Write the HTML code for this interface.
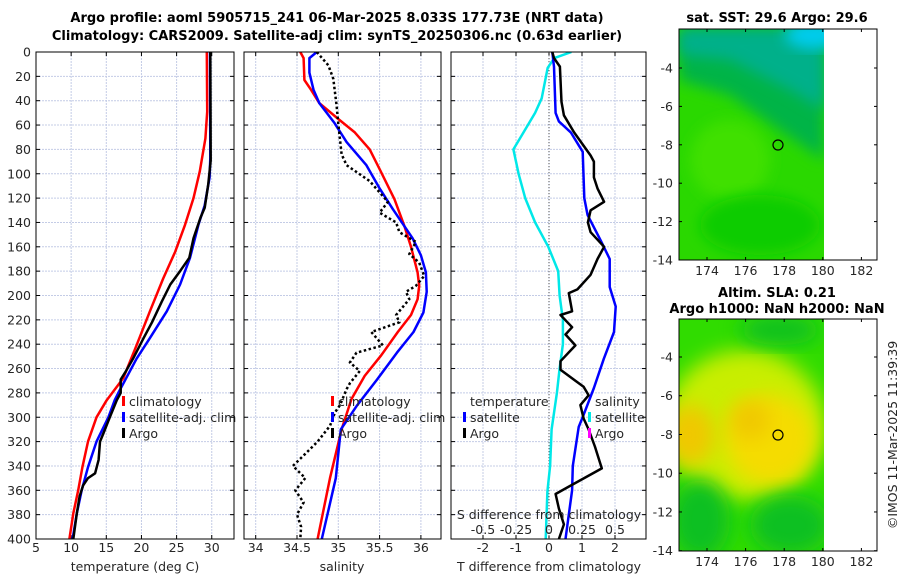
<!DOCTYPE html>
<html><head><meta charset="utf-8"><style>
html,body{margin:0;padding:0;background:#fff;}
svg{display:block;font-family:"DejaVu Sans","Liberation Sans",sans-serif;}
.tk{font-size:12.5px;fill:#262626;}
.ttl{font-size:13px;font-weight:bold;fill:#000;}
</style></head><body>
<svg id="fig" width="900" height="580" viewBox="0 0 900 580" xmlns="http://www.w3.org/2000/svg">
<defs>
<filter id="blur1" x="-20%" y="-20%" width="140%" height="140%"><feGaussianBlur stdDeviation="7"/></filter>
<filter id="blur2" x="-30%" y="-30%" width="160%" height="160%"><feGaussianBlur stdDeviation="10"/></filter>
<clipPath id="cm1"><rect x="679" y="29" width="145" height="231"/></clipPath>
<clipPath id="cm2"><rect x="679" y="319" width="145" height="232"/></clipPath>
<clipPath id="cp1"><rect x="36" y="52" width="198" height="487"/></clipPath>
<clipPath id="cp2"><rect x="244" y="52" width="197" height="487"/></clipPath>
<clipPath id="cp3"><rect x="451" y="52" width="195" height="487"/></clipPath>
</defs>
<text class="ttl" x="337" y="22" text-anchor="middle">Argo profile: aoml 5905715_241 06-Mar-2025 8.033S 177.73E (NRT data)</text>
<text class="ttl" x="337" y="40" text-anchor="middle">Climatology: CARS2009. Satellite-adj clim: synTS_20250306.nc (0.63d earlier)</text>

<g id="maps">
<g clip-path="url(#cm1)">
<rect x="679" y="29" width="145" height="231" fill="#2ad800"/>
<polygon points="679,29 824,29 824,160 780,130 730,95 679,80" fill="#00b446" filter="url(#blur1)"/>
<polygon points="679,29 824,29 824,110 790,90 730,60 679,55" fill="#00b08a" filter="url(#blur1)"/>
<ellipse cx="815" cy="35" rx="30" ry="14" fill="#00ccee" filter="url(#blur1)"/>
<ellipse cx="730" cy="160" rx="40" ry="40" fill="#40e000" filter="url(#blur1)"/>
<ellipse cx="760" cy="225" rx="60" ry="30" fill="#10cc00" filter="url(#blur1)"/>
</g>
<rect x="679" y="29" width="198" height="231" fill="none" stroke="#000" stroke-width="1"/>
<circle cx="778" cy="145" r="5" fill="none" stroke="#000" stroke-width="1.2"/>
<text class="ttl" x="777" y="22" text-anchor="middle">sat. SST: 29.6 Argo: 29.6</text>

<g clip-path="url(#cm2)">
<rect x="679" y="319" width="145" height="232" fill="#30dc00"/>
<ellipse cx="745" cy="425" rx="80" ry="75" fill="#c8ee00" filter="url(#blur2)"/>
<ellipse cx="770" cy="440" rx="45" ry="45" fill="#f5dc00" filter="url(#blur2)"/>
<ellipse cx="690" cy="435" rx="25" ry="30" fill="#f0c800" filter="url(#blur2)"/>
<ellipse cx="750" cy="420" rx="20" ry="20" fill="#f0c800" filter="url(#blur2)"/>
<ellipse cx="700" cy="520" rx="30" ry="40" fill="#10c020" filter="url(#blur2)"/>
<ellipse cx="790" cy="525" rx="40" ry="30" fill="#10c020" filter="url(#blur2)"/>
<ellipse cx="780" cy="330" rx="40" ry="15" fill="#10c020" filter="url(#blur2)"/>
</g>
<rect x="679" y="319" width="198" height="232" fill="none" stroke="#000" stroke-width="1"/>
<circle cx="778" cy="435" r="5" fill="none" stroke="#000" stroke-width="1.2"/>
<text class="ttl" x="777" y="297" text-anchor="middle">Altim. SLA: 0.21</text>
<text class="ttl" x="777" y="313" text-anchor="middle">Argo h1000: NaN h2000: NaN</text>
</g>
<text class="tk" x="0" y="0" transform="translate(897,435) rotate(-90)" text-anchor="middle">©IMOS 11-Mar-2025 11:39:39</text>
</svg>
<script>
// ---------- data ----------
const depthTicks = [0,20,40,60,80,100,120,140,160,180,200,220,240,260,280,300,320,340,360,380,400];
const tempTicks = [5,10,15,20,25,30];
const salTicks = [34,34.5,35,35.5,36];
const salTickLabels = ["34","34.5","35","35.5","36"];
const tdiffTicks = [-2,-1,0,1,2];
const sdiffTicks = [-0.5,-0.25,0,0.25,0.5];
const sdiffTickLabels = ["-0.5","-0.25","0","0.25","0.5"];

const tClimDepth = [0,49,71,98,120,142,164,186,213,241,268,286,300,320,341,360,379,400];
const tClim = [29.3,29.35,29.1,28.3,27.4,26.2,24.8,23.1,21.2,19.3,17.4,15.05,13.6,12.4,11.6,11.0,10.3,9.75];
const tSatDepth = [0,87,103,126,142,169,191,213,235,252,280,286,300,320,341,360,379,400];
const tSat = [29.75,29.8,29.7,29.0,28.1,26.9,25.5,23.6,21.2,19.3,16.7,16.2,15.3,13.6,12.4,11.5,10.8,10.2];
const tArgoDepth = [0,89,109,128,136,153,169,180,191,205,222,235,252,263,269,280,286,300,313,320,335,346,350,356,365,379,400];
const tArgo = [29.8,29.85,29.5,29.0,28.4,27.4,26.8,25.5,24.1,22.9,21.5,20.3,18.8,17.7,17.05,17.05,16.5,15.5,14.6,14.1,13.9,13.4,12.4,11.7,11.2,10.8,10.3];

const sClimDepth = [0,5,23,31,42,55,66,80,99,121,143,160,181,192,203,216,230,249,266,285,310,350,400];
const sClim = [34.54,34.58,34.59,34.67,34.77,35.0,35.2,35.38,35.52,35.68,35.8,35.88,35.96,35.98,35.96,35.88,35.72,35.52,35.32,35.16,35.04,34.9,34.75];
const sSatDepth = [0,5,17,31,42,58,74,93,112,129,153,167,181,197,214,230,247,269,290,310,350,400];
const sSat = [34.74,34.65,34.65,34.7,34.77,34.95,35.1,35.34,35.5,35.66,35.9,36.0,36.06,36.07,36.03,35.91,35.71,35.47,35.23,35.03,34.97,34.8];
const sArgoDepth = [0,11,22,44,59,84,93,106,123,132,140,148,156,166,173,184,192,197,203,216,222,230,241,247,255,262,272,277,290,296,307,320,330,340,350,360,370,380,390,400];
const sArgo = [34.74,34.88,34.94,34.98,35.0,35.04,35.1,35.38,35.6,35.5,35.7,35.74,35.94,35.86,35.98,36.04,35.94,35.82,35.86,35.7,35.74,35.4,35.54,35.22,35.14,35.26,35.14,35.1,35.02,34.96,34.9,34.75,34.6,34.45,34.6,34.48,34.58,34.5,34.55,34.54];

const dSalSatDepth = [0,5,13,38,50,80,100,120,140,160,180,200,220,240,260,280,310,340,361,400];
const dSalSat = [0.17,0.04,-0.01,-0.055,-0.105,-0.27,-0.23,-0.18,-0.105,-0.005,0.07,0.08,0.105,0.105,0.08,0.06,0.02,0.008,-0.012,-0.025];
const dTSatDepth = [0,12,50,57,66,82,120,134,155,170,193,209,230,252,276,298,308,340,360,400];
const dTSat = [0.1,0.15,0.2,0.3,0.66,1.02,1.07,1.17,1.57,1.84,1.84,2.02,1.97,1.66,1.36,1.05,0.9,0.72,0.7,0.5];
const dTArgoDepth = [0,5,12,41,52,66,85,90,103,112,123,130,140,148,160,170,183,195,198,213,216,226,232,241,254,261,275,282,290,301,310,324,342,357,363,375,388,400];
const dTArgo = [0.1,0.15,0.33,0.38,0.45,0.76,1.26,1.36,1.36,1.47,1.67,1.26,1.18,1.26,1.67,1.47,1.26,0.86,0.6,0.7,0.35,0.7,0.5,0.8,0.35,0.35,1.05,1.2,0.95,1.05,1.2,1.39,1.6,0.6,0.2,0.3,0.45,0.3];

const mapLonTicks = [174,176,178,180,182];
const mapLatTicks = [-4,-6,-8,-10,-12,-14];

// ---------- scales ----------
const NS = 'http://www.w3.org/2000/svg';
const svg = document.getElementById('fig');
const Y0 = 52, Y1 = 539;
function yD(d){ return Y0 + (d/400)*(Y1-Y0); }
function xT1(t){ return 36 + (t-5)*7.03; }
function xS(s){ return 255.7 + (s-34)*82.6; }
function xDT(t){ return 549 + t*33; }
function xDS(s){ return 549 + s*132; }
function lonX(l){ return 707 + (l-174)*19.3; }
function latY1(l){ return 68 + (-4-l)*19.2; }
function latY2(l){ return 357 + (-4-l)*19.37; }

function mk(tag, attrs, parent){
  const e = document.createElementNS(NS, tag);
  for (const k in attrs) e.setAttribute(k, attrs[k]);
  (parent||svg).appendChild(e);
  return e;
}
function txt(x,y,s,anchor,cls,parent){
  const t = mk('text',{x:x,y:y,'text-anchor':anchor||'middle','class':cls||'tk'},parent);
  t.textContent = s;
  return t;
}

function panel(name, x0, x1, xticks, xf, labels){
  const g = mk('g',{});
  
  
  depthTicks.forEach(d=>{
    if(d>0 && d<400){
      const l = mk('line',{x1:x0,x2:x1,y1:yD(d),y2:yD(d),stroke:'#c4cce6','stroke-width':1,'stroke-dasharray':'2,1'},g);
      
      
    }
    mk('line',{x1:x0,x2:x0+4,y1:yD(d),y2:yD(d),stroke:'#000'},g);
    mk('line',{x1:x1-4,x2:x1,y1:yD(d),y2:yD(d),stroke:'#000'},g);
  });
  xticks.forEach((v,i)=>{
    const x = xf(v);
    const l = mk('line',{x1:x,x2:x,y1:Y0,y2:Y1,stroke:'#c4cce6','stroke-width':1,'stroke-dasharray':'2,1'},g);
    
    
    mk('line',{x1:x,x2:x,y1:Y1-4,y2:Y1,stroke:'#000'},g);
    mk('line',{x1:x,x2:x,y1:Y0,y2:Y0+4,stroke:'#000'},g);
    const t = txt(x,552,labels?labels[i]:String(v),'middle','tk',g);
    
    
  });
  return g;
}

function line(parent, xs, ds, xf, color, width, dash, name, clip){
  let p='';
  for(let i=0;i<xs.length;i++){ p += (i?'L':'M') + xf(xs[i]).toFixed(1) + ',' + yD(ds[i]).toFixed(1); }
  const a = {d:p,fill:'none',stroke:color,'stroke-width':width,'stroke-linejoin':'round','clip-path':'url(#'+clip+')'};
  if(dash){ a['stroke-dasharray']=dash; a['stroke-linecap']='butt'; }
  const e = mk('path',a,parent);
  
  
  return e;
}

function frame(x0,x1,name){
  const r = mk('rect',{x:x0,y:Y0,width:x1-x0,height:Y1-Y0,fill:'none',stroke:'#000','stroke-width':1});
  
  
}

function legendEntry(parent,x,y,color,label){
  const g = mk('g',{},parent);
  
  
  mk('rect',{x:x,y:y-10,width:3,height:10,fill:color},g);
  txt(x+7,y,label,'start','tk',g);
}

// Panel 1
const p1 = panel('temperature-panel',36,234,tempTicks,xT1);
depthTicks.forEach(d=>{
  const t = txt(31,yD(d)+4.5,String(d),'end','tk',p1);
  
  
});
line(p1,tClim,tClimDepth,xT1,'#ff0000',2.5,null,'temp-climatology-line','cp1');
line(p1,tSat,tSatDepth,xT1,'#0000ff',2.5,null,'temp-satellite-line','cp1');
line(p1,tArgo,tArgoDepth,xT1,'#000000',2.5,null,'temp-argo-line','cp1');
legendEntry(p1,122,406,'#ff0000','climatology');
legendEntry(p1,122,422,'#0000ff','satellite-adj. clim');
legendEntry(p1,122,438,'#000000','Argo');
frame(36,234,'temperature-axes-frame');
const xt1 = txt(135,571,'temperature (deg C)','middle','tk');  

// Panel 2
const p2 = panel('salinity-panel',244,441,salTicks,xS,salTickLabels);
line(p2,sClim,sClimDepth,xS,'#ff0000',2.5,null,'sal-climatology-line','cp2');
line(p2,sSat,sSatDepth,xS,'#0000ff',2.5,null,'sal-satellite-line','cp2');
line(p2,sArgo,sArgoDepth,xS,'#000000',2.5,'2.5,2.5','sal-argo-line','cp2');
legendEntry(p2,331,406,'#ff0000','climatology');
legendEntry(p2,331,422,'#0000ff','satellite-adj. clim');
legendEntry(p2,331,438,'#000000','Argo');
frame(244,441,'salinity-axes-frame');
const xt2 = txt(342,571,'salinity','middle','tk');  

// Panel 3
const p3 = panel('difference-panel',451,646,tdiffTicks,xDT);
const zl = mk('line',{x1:xDT(0),x2:xDT(0),y1:Y0,y2:Y1,stroke:'#555','stroke-width':1,'stroke-dasharray':'1,2'},p3);


line(p3,dSalSat,dSalSatDepth,xDS,'#00e8e8',2.5,null,'sal-diff-satellite-line','cp3');
line(p3,dTSat,dTSatDepth,xDT,'#0000ff',2.5,null,'temp-diff-satellite-line','cp3');
line(p3,dTArgo,dTArgoDepth,xDT,'#000000',2.5,null,'temp-diff-argo-line','cp3');
const lt = txt(470,406,'temperature','start','tk',p3);  
legendEntry(p3,463,422,'#0000ff','satellite');
legendEntry(p3,463,438,'#000000','Argo');
const ls = txt(595,406,'salinity','start','tk',p3);  
legendEntry(p3,588,422,'#00e8e8','satellite');
legendEntry(p3,588,438,'#ff00ff','Argo');
const st = txt(549,519,'S difference from climatology','middle','tk',p3);  
sdiffTicks.forEach((v,i)=>{
  const t = txt(xDS(v),534,sdiffTickLabels[i],'middle','tk',p3);
  
  
});
frame(451,646,'difference-axes-frame');
const xt3 = txt(549,571,'T difference from climatology','middle','tk');  

// Map axes
function mapAxes(name, top, bot, latY){
  const g = mk('g',{});
  
  
  mapLonTicks.forEach(l=>{
    const x = lonX(l);
    mk('line',{x1:x,x2:x,y1:bot-3,y2:bot,stroke:'#000'},g);
    mk('line',{x1:x,x2:x,y1:top,y2:top+3,stroke:'#000'},g);
    const t = txt(x,bot+15,String(l),'middle','tk',g);
    
    
  });
  mapLatTicks.forEach(l=>{
    const y = latY(l);
    mk('line',{x1:679,x2:682,y1:y,y2:y,stroke:'#000'},g);
    mk('line',{x1:874,x2:877,y1:y,y2:y,stroke:'#000'},g);
    const t = txt(673,y+4.5,String(l),'end','tk',g);
    
    
  });
}
mapAxes('sst-map-axes',29,260,latY1);
mapAxes('sla-map-axes',319,551,latY2);
</script>
</body></html>
